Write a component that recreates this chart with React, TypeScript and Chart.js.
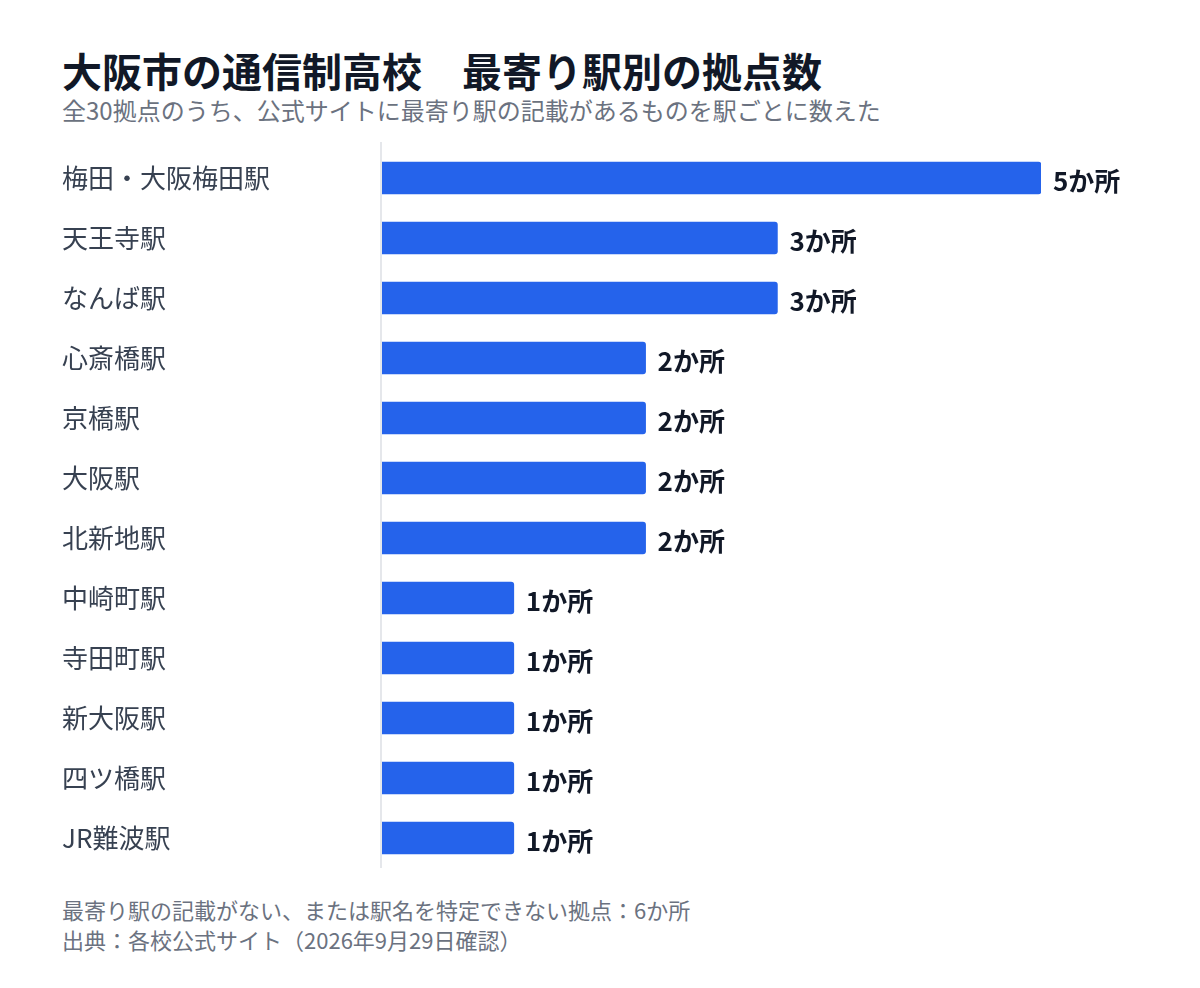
import { useEffect, useRef } from "react"
import { Chart, registerables } from "chart.js"

Chart.register(...registerables)

const FONT = '"Noto Sans CJK JP", "Noto Sans", sans-serif'

// 最寄り駅ごとの拠点数
const stations = [
  "梅田・大阪梅田駅",
  "天王寺駅",
  "なんば駅",
  "心斎橋駅",
  "京橋駅",
  "大阪駅",
  "北新地駅",
  "中崎町駅",
  "寺田町駅",
  "新大阪駅",
  "四ツ橋駅",
  "JR難波駅",
]
const counts = [5, 3, 3, 2, 2, 2, 2, 1, 1, 1, 1, 1]
const unit = "か所"

const title = "大阪市の通信制高校　最寄り駅別の拠点数"
const subtitle = "全30拠点のうち、公式サイトに最寄り駅の記載があるものを駅ごとに数えた"
const notes = [
  "最寄り駅の記載がない、または駅名を特定できない拠点：6か所",
  "出典：各校公式サイト（2026年9月29日確認）",
]

// bar-end labels + axis line that runs a bit above the plot area
const decorPlugin = {
  id: "decor",
  afterDatasetsDraw(chart: Chart) {
    const { ctx, chartArea } = chart
    ctx.save()
    ctx.strokeStyle = "#e5e7eb"
    ctx.lineWidth = 2
    ctx.beginPath()
    ctx.moveTo(chartArea.left - 1, 0)
    ctx.lineTo(chartArea.left - 1, chartArea.bottom)
    ctx.stroke()

    const meta = chart.getDatasetMeta(0)
    ctx.font = `700 26px ${FONT}`
    ctx.fillStyle = "#111827"
    ctx.textAlign = "left"
    ctx.textBaseline = "middle"
    meta.data.forEach((bar: any, i: number) => {
      ctx.fillText(`${counts[i]}${unit}`, bar.x + 12, bar.y + 3)
    })
    ctx.restore()
  },
}

export function StationChart() {
  const chartRef = useRef<HTMLCanvasElement>(null)
  const chartInstance = useRef<Chart | null>(null)

  useEffect(() => {
    if (!chartRef.current) return
    if (chartInstance.current) chartInstance.current.destroy()

    chartInstance.current = new Chart(chartRef.current, {
      type: "bar",
      data: {
        labels: stations,
        datasets: [
          {
            data: counts,
            backgroundColor: "#2563eb",
            borderRadius: 3,
            borderSkipped: "start",
            barThickness: 32,
          },
        ],
      },
      options: {
        indexAxis: "y",
        responsive: true,
        maintainAspectRatio: false,
        animation: false,
        layout: { padding: { top: 6, right: 99, left: 0, bottom: 0 } },
        scales: {
          x: {
            display: false,
            min: 0,
            max: 5,
          },
          y: {
            grid: { display: false },
            border: { display: false },
            ticks: {
              crossAlign: "far",
              color: "#374151",
              font: { family: FONT, size: 26, lineHeight: 1.1 },
            },
            afterFit(scale: any) {
              scale.width = 320
              scale.paddingTop = 0
              scale.paddingBottom = 0
            },
          },
        },
        plugins: {
          legend: { display: false },
          tooltip: { enabled: false },
        },
      },
      plugins: [decorPlugin],
    })

    return () => {
      if (chartInstance.current) {
        chartInstance.current.destroy()
        chartInstance.current = null
      }
    }
  }, [])

  return (
    <div style={{ position: "absolute", left: 62, top: 142, width: 1078, height: 726 }}>
      <canvas ref={chartRef} />
    </div>
  )
}

export default function App() {
  return (
    <div
      style={{
        position: "relative",
        width: 1200,
        height: 988,
        margin: -8,
        background: "#fff",
        fontFamily: FONT,
      }}
    >
      <div
        style={{
          position: "absolute",
          left: 62,
          top: 48,
          fontSize: 40,
          fontWeight: 700,
          lineHeight: "44px",
          color: "#111827",
          whiteSpace: "nowrap",
        }}
      >
        {title}
      </div>
      <div
        style={{
          position: "absolute",
          left: 62,
          top: 95,
          fontSize: 24,
          lineHeight: "30px",
          color: "#6b7280",
          whiteSpace: "nowrap",
        }}
      >
        {subtitle}
      </div>
      <StationChart />
      <div
        style={{
          position: "absolute",
          left: 62,
          top: 894,
          fontSize: 22,
          lineHeight: "30px",
          color: "#6b7280",
          whiteSpace: "nowrap",
        }}
      >
        {notes.map((n) => (
          <div key={n}>{n}</div>
        ))}
      </div>
    </div>
  )
}
